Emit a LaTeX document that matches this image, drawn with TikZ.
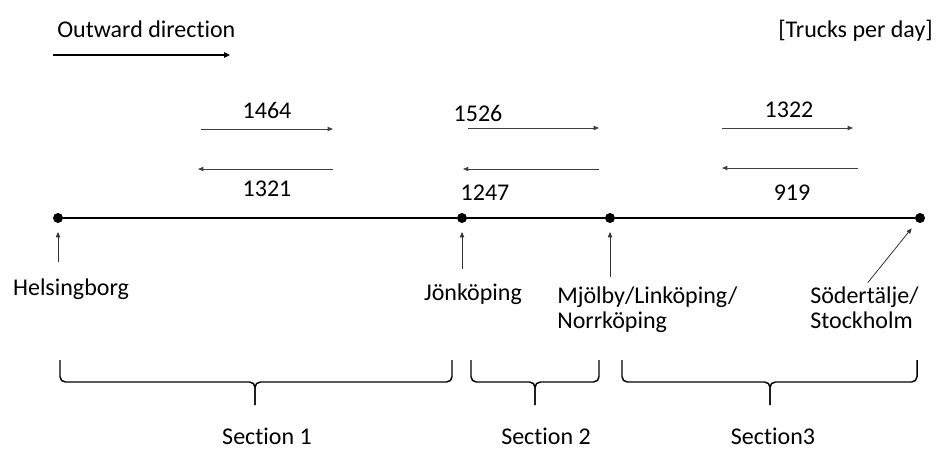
\documentclass[tikz,border=0pt]{standalone}
\usepackage{fontspec}
\setmainfont{Carlito}[Ligatures=NoCommon]
\usetikzlibrary{arrows.meta, positioning}
\tikzset{
  txt/.style={font=\fontsize{18}{18.75}\selectfont, inner sep=0pt, align=left},
  city/.style={circle, fill=black, inner sep=0pt, minimum size=7.5pt},
  route/.style={line width=1.5pt},
  bigarrow/.style={-{Triangle[length=4.5pt, width=4pt]}, line width=1.4pt},
  flow/.style={-{Triangle[length=4pt, width=3.2pt]}, line width=0.7pt, black!75},
  pointer/.style={-{Triangle[length=4pt, width=3.2pt]}, line width=0.6pt, black!80},
  sectionbrace/.style={line width=1.1pt, rounded corners=4pt},
}
\begin{document}
\begin{tikzpicture}[x=0.75pt, y=-0.75pt]
  \useasboundingbox (0,0) rectangle (937,449);

  % header
  \node[txt, anchor=west] (outward) at (57,29) {Outward direction};
  \coordinate (outs) at (53,55);
  \coordinate (oute) at (230,55);
  \draw[bigarrow] (outs) -- (oute);
  \node[txt, anchor=east] (unit) at (933,31) {[Trucks per day]};

  % route and cities
  \node[city] (hels) at (58,218) {};
  \node[city] (jon) at (462,218) {};
  \node[city] (mjo) at (610,218) {};
  \node[city] (sod) at (920,218) {};
  \draw[route] (hels) -- (jon) -- (mjo) -- (sod);

  % place names
  \node[txt] (helslbl) at (71,289) {Helsingborg};
  \node[txt] (jonlbl) at (473,294) {Jönköping};
  \node[txt, anchor=west] (mjolbl) at (557,310) {Mjölby/Linköping/\\Norrköping};
  \node[txt, anchor=west] (sodlbl) at (810,308) {Södertälje/\\Stockholm};

  \draw[pointer, shorten <=12pt, shorten >=6.5pt] (hels |- helslbl.north) -- (hels);
  \draw[pointer, shorten <=11pt, shorten >=6.5pt] (jon |- jonlbl.north) -- (jon);
  \draw[pointer, shorten <=7.5pt, shorten >=6.5pt] (mjo |- mjolbl.north) -- (mjo);
  \draw[pointer, shorten <=4pt, shorten >=6pt] (sodlbl.north) -- (sod);

  % flows, outward
  \coordinate (o1s) at (201,129);
  \coordinate (o1e) at (333,129);
  \draw[flow] (o1s) -- (o1e);
  \node[txt] (o1) at (267,110) {1464};

  \coordinate (o2s) at (468,128);
  \coordinate (o2e) at (599,128);
  \draw[flow] (o2s) -- (o2e);
  \node[txt] (o2) at (478,113) {1526};

  \coordinate (o3s) at (722,128);
  \coordinate (o3e) at (853,128);
  \draw[flow] (o3s) -- (o3e);
  \node[txt] (o3) at (789,110) {1322};

  % flows, return
  \coordinate (r1s) at (333,169);
  \coordinate (r1e) at (198,169);
  \draw[flow] (r1s) -- (r1e);
  \node[txt] (r1) at (267,189) {1321};

  \coordinate (r2s) at (599,169);
  \coordinate (r2e) at (463,169);
  \draw[flow] (r2s) -- (r2e);
  \node[txt] (r2) at (485,193) {1247};

  \coordinate (r3s) at (858,168);
  \coordinate (r3e) at (722,168);
  \draw[flow] (r3s) -- (r3e);
  \node[txt] (r3) at (792,193) {919};

  % sections
  \draw[sectionbrace] (60,360) -- (60,382) -- (255,382) -- (255,405);
  \draw[sectionbrace] (452,360) -- (452,382) -- (255,382) -- (255,405);
  \node[txt] (sec1) at (267,436) {Section 1};

  \draw[sectionbrace] (471,360) -- (471,382) -- (535,382) -- (535,405);
  \draw[sectionbrace] (599,360) -- (599,382) -- (535,382) -- (535,405);
  \node[txt] (sec2) at (546,436) {Section 2};

  \draw[sectionbrace] (622,360) -- (622,382) -- (770,382) -- (770,405);
  \draw[sectionbrace] (917,360) -- (917,382) -- (770,382) -- (770,405);
  \node[txt] (sec3) at (773,436) {Section3};

\end{tikzpicture}
\end{document}
